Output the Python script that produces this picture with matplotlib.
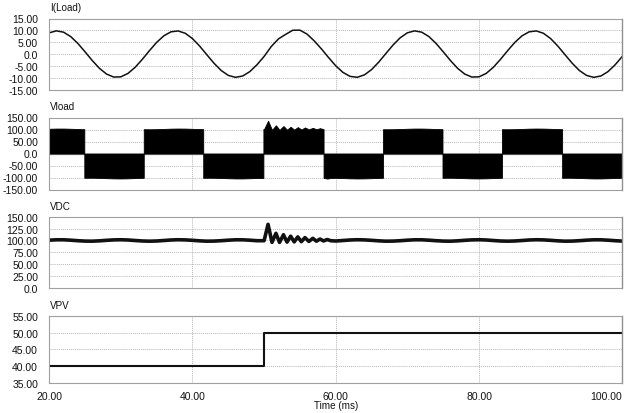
import numpy as np
import matplotlib
matplotlib.use("Agg")
import matplotlib.pyplot as plt

plt.rcParams['font.family'] = ['Liberation Sans', 'DejaVu Sans']

# ---------------- data ----------------
# I(Load), sampled every 1 ms from 20 to 100 ms
t_i = np.arange(20, 101, 1.0)
i_load = [8.97, 9.79, 9.24, 7.39, 4.50, 0.98, -2.67, -5.96, -8.40, -9.67,
          -9.58, -8.14, -5.56, -2.20, 1.47, 4.94, 7.70, 9.39, 9.76, 8.76,
          6.53, 3.38, -0.25, -3.83, -6.89, -8.97, -9.79, -9.24, -7.39, -4.50,
          -0.98, 3.20, 6.40, 8.30, 10.05, 10.10, 8.40, 5.56, 2.20, -1.47,
          -4.94, -7.70, -9.39, -9.76, -8.76, -6.53, -3.38, 0.25, 3.83, 6.89,
          8.97, 9.79, 9.24, 7.39, 4.50, 0.98, -2.67, -5.96, -8.40, -9.67,
          -9.58, -8.14, -5.56, -2.20, 1.47, 4.94, 7.70, 9.39, 9.76, 8.76,
          6.53, 3.38, -0.25, -3.83, -6.89, -8.97, -9.79, -9.24, -7.39, -4.50,
          -0.98]

# VDC (V)
t_vdc = [20, 21, 22, 23, 24, 25, 26, 27, 28, 29, 30, 31, 32, 33, 34, 35, 36,
         37, 38, 39, 40, 41, 42, 43, 44, 45, 46, 47, 48, 49, 50.0,
         50.55, 51.1, 51.65, 52.15, 52.7, 53.2, 53.7, 54.2, 54.7, 55.2, 55.7,
         56.25, 56.8, 57.3, 57.8, 58.3, 58.8, 59.3,
         60, 61, 62, 63, 64, 65, 66, 67, 68, 69, 70, 71, 72, 73, 74, 75, 76,
         77, 78, 79, 80, 81, 82, 83, 84, 85, 86, 87, 88, 89, 90, 91, 92, 93,
         94, 95, 96, 97, 98, 99, 100]
v_dc = [100.6, 101.4, 101.4, 100.6, 99.5, 98.7, 98.5, 99.2, 100.3, 101.2,
        101.5, 101.0, 99.9, 98.9, 98.5, 98.9, 99.9, 101.0, 101.5, 101.2,
        100.3, 99.2, 98.5, 98.7, 99.5, 100.6, 101.4, 101.4, 100.6, 99.5, 99.5,
        134.0, 96.0, 115.0, 96.0, 112.0, 96.5, 109.0, 97.0, 107.5, 97.5, 106.0,
        98.0, 104.5, 98.5, 103.0, 99.0, 102.0, 99.5,
        98.9, 99.9, 101.0, 101.5, 101.2, 100.3, 99.2, 98.5, 98.7, 99.5,
        100.6, 101.4, 101.4, 100.6, 99.5, 98.7, 98.5, 99.2, 100.3, 101.2,
        101.5, 101.0, 99.9, 98.9, 98.5, 98.9, 99.9, 101.0, 101.5, 101.2,
        100.3, 99.2, 98.5, 98.7, 99.5, 100.6, 101.4, 101.4, 100.6, 99.5, 98.7]

# Vload: PWM blocks (switch times, polarity) with envelope following VDC
vload_switch = [20, 24.9, 33.2, 41.5, 49.9, 58.3, 66.6, 74.9, 83.2, 91.6, 100]
vload_pol = [1, -1, 1, -1, 1, -1, 1, -1, 1, -1]
vload_extra = 2.5   # envelope sits slightly above VDC band center

# VPV (V)
t_vpv = [20, 50, 50, 100]
v_pv = [40, 40, 50, 50]

x_ticks = [20, 40, 60, 80, 100]
x_ticklabels = ["20.00", "40.00", "60.00", "80.00", "100.00"]

# ---------------- figure ----------------
W, H = 628, 414
fig = plt.figure(figsize=(W / 100, H / 100), dpi=100)

def px_axes(top, bottom, left=49.2, right=622.3):
    return fig.add_axes([left / W, 1 - bottom / H, (right - left) / W, (bottom - top) / H])

GRID = '#b8b8b8'
TXT = '#111111'
FS_TICK = 7.5
FS_TITLE = 7.1

def style(ax, title, yticks, ylabels, show_x=False):
    ax.set_xlim(20, 100)
    ax.set_ylim(min(yticks), max(yticks))
    ax.set_yticks(yticks)
    ax.set_yticklabels(ylabels, fontsize=FS_TICK, color=TXT)
    ax.set_xticks(x_ticks)
    for v in yticks:
        ax.axhline(v, color=GRID, lw=0.7, ls=(0, (1, 1)), zorder=0)
    for v in x_ticks[1:-1]:
        ax.axvline(v, color=GRID, lw=0.7, ls=(0, (1, 1)), zorder=0)
    for s in ['top', 'bottom', 'left']:
        ax.spines[s].set_color('#a0a0a0')
        ax.spines[s].set_linestyle((0, (1, 1)))
        ax.spines[s].set_linewidth(0.8)
    ax.spines['right'].set_color('#909090')
    ax.spines['right'].set_linewidth(1.0)
    ax.tick_params(axis='both', length=0, pad=8)
    if show_x:
        ax.set_xticklabels(x_ticklabels, fontsize=FS_TICK, color=TXT)
        ax.tick_params(axis='x', pad=6)
        labs = ax.get_xticklabels()
        labs[-1].set_horizontalalignment('right')
    else:
        ax.set_xticklabels([])
    ax.annotate(title, xy=(0, 1), xycoords='axes fraction', xytext=(0.5, 8),
                textcoords='offset points', ha='left', va='center',
                fontsize=FS_TITLE, color=TXT)

# Panel 1: I(Load)
ax1 = px_axes(19.5, 90.7)
ax1.plot(t_i, i_load, color='#111111', lw=1.1)
style(ax1, "I(Load)", [-15, -10, -5, 0, 5, 10, 15],
      ["-15.00", "-10.00", "-5.00", "0.0", "5.00", "10.00", "15.00"])

# Panel 2: Vload
ax2 = px_axes(118.5, 190.5)
ax2.axhline(0, color='#8a8a8a', lw=0.9, zorder=1)
tv = np.array(t_vdc)
vv = np.array(v_dc)
for k in range(len(vload_pol)):
    t0, t1 = vload_switch[k], vload_switch[k + 1]
    inside = tv[(tv > t0) & (tv < t1)]
    tb = np.concatenate([[t0], inside, [t1]])
    env = np.interp(tb, tv, vv) + vload_extra
    ax2.fill_between(tb, 0, vload_pol[k] * env, color='black', lw=0.6,
                     edgecolor='black', zorder=2)
style(ax2, "Vload", [-150, -100, -50, 0, 50, 100, 150],
      ["-150.00", "-100.00", "-50.00", "0.0", "50.00", "100.00", "150.00"])

# Panel 3: VDC
ax3 = px_axes(217.7, 289.0)
ax3.plot(t_vdc, v_dc, color='#111111', lw=2.6, solid_joinstyle='round')
style(ax3, "VDC", [0, 25, 50, 75, 100, 125, 150],
      ["0.0", "25.00", "50.00", "75.00", "100.00", "125.00", "150.00"])

# Panel 4: VPV
ax4 = px_axes(316.7, 384.0)
ax4.plot(t_vpv, v_pv, color='#111111', lw=1.5)
style(ax4, "VPV", [35, 40, 45, 50, 55],
      ["35.00", "40.00", "45.00", "50.00", "55.00"], show_x=True)
ax4.text(60, -0.33, "Time (ms)", transform=ax4.get_xaxis_transform(),
         ha='center', va='center', fontsize=FS_TITLE, color=TXT)

fig.savefig("out.png", dpi=100)
